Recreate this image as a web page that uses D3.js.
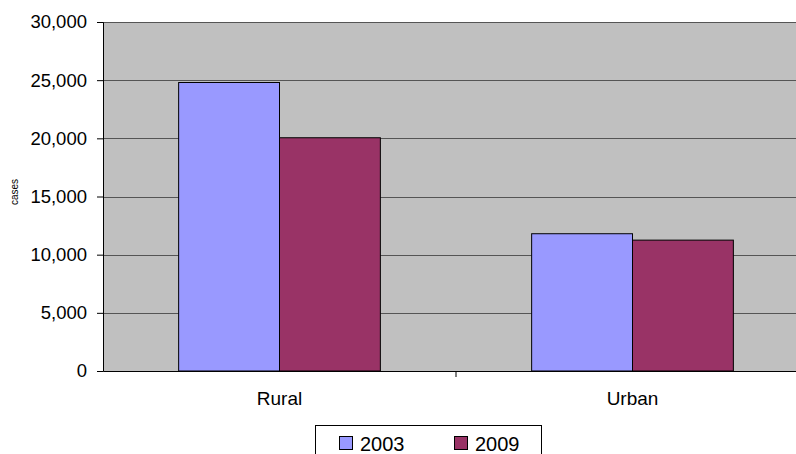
<!DOCTYPE html>
<html lang="en">
<head>
<meta charset="utf-8">
<title>cases</title>
<script src="https://cdn.jsdelivr.net/npm/d3@7"></script>
<style>
  body { margin: 0; background: #fff; }
  text { font-family: "Liberation Sans", Arial, sans-serif; fill: #000; }
</style>
</head>
<body>
<script>
// data
var categories = ["Rural", "Urban"];
var seriesNames = ["2003", "2009"];
var values2003 = [24800, 11800];
var values2009 = [20050, 11250];
var yTicks = [0, 5000, 10000, 15000, 20000, 25000, 30000];
var colors = ["#9999FF", "#993366"];

var w = 796, h = 454;
var plotLeft = 103, plotTop = 22, plotBottom = 371, plotRight = 809;

var svg = d3.select("body").append("svg")
  .attr("width", w).attr("height", h);

var xScale = d3.scaleBand().domain(categories).range([plotLeft, plotRight]);
var inner = d3.scaleBand().domain(seriesNames)
  .range([0, xScale.bandwidth()]).paddingOuter(0.75).paddingInner(0);
var yScale = d3.scaleLinear().domain([0, 30000]).range([plotBottom, plotTop]);

// plot background
svg.append("rect")
  .attr("x", plotLeft).attr("y", plotTop)
  .attr("width", plotRight - plotLeft).attr("height", plotBottom - plotTop)
  .attr("fill", "#C0C0C0");

// gridlines
svg.selectAll(".grid").data(yTicks.slice(1)).enter().append("line")
  .attr("x1", plotLeft).attr("x2", plotRight)
  .attr("y1", function(d) { return Math.round(yScale(d)) + 0.5; })
  .attr("y2", function(d) { return Math.round(yScale(d)) + 0.5; })
  .attr("stroke", "#555").attr("stroke-width", 1);

// bars
var rows = categories.map(function(c, i) {
  return { cat: c, vals: [values2003[i], values2009[i]] };
});
rows.forEach(function(r) {
  svg.selectAll(null).data(r.vals).enter().append("rect")
    .attr("x", function(d, j) { return xScale(r.cat) + inner(seriesNames[j]); })
    .attr("y", function(d) { return yScale(d); })
    .attr("width", inner.bandwidth())
    .attr("height", function(d) { return plotBottom - yScale(d); })
    .attr("fill", function(d, j) { return colors[j]; })
    .attr("stroke", "#000").attr("stroke-width", 1);
});

// Y axis
var yAxis = d3.axisLeft(yScale).tickValues(yTicks).tickSize(6).tickPadding(10)
  .tickFormat(d3.format(","));
var gy = svg.append("g").attr("transform", "translate(" + plotLeft + ",0)").call(yAxis);
gy.selectAll("text").style("font-size", "18.5px");
gy.select(".domain").attr("stroke", "#000");

// X axis
var xAxis = d3.axisBottom(xScale).tickSize(0).tickPadding(21);
var gx = svg.append("g").attr("transform", "translate(0," + plotBottom + ")").call(xAxis);
gx.selectAll("text").style("font-size", "19px");
gx.select(".domain").attr("stroke", "#000");
// category divider tick
gx.append("line")
  .attr("x1", xScale("Urban")).attr("x2", xScale("Urban"))
  .attr("y1", 0).attr("y2", 6).attr("stroke", "#000");

// y label
svg.append("text")
  .attr("transform", "translate(18,192) rotate(-90)")
  .attr("text-anchor", "middle")
  .style("font-size", "10px")
  .text("cases");

// legend
var lg = svg.append("g");
lg.append("rect")
  .attr("x", 315.5).attr("y", 425.5).attr("width", 226).attr("height", 40)
  .attr("fill", "#fff").attr("stroke", "#000");
var lx = [339, 454];
seriesNames.forEach(function(s, i) {
  lg.append("rect")
    .attr("x", lx[i] + 0.5).attr("y", 436.5).attr("width", 13).attr("height", 13)
    .attr("fill", colors[i]).attr("stroke", "#000");
  lg.append("text")
    .attr("x", lx[i] + 21).attr("y", 451)
    .style("font-size", "20px")
    .text(s);
});
</script>
</body>
</html>
